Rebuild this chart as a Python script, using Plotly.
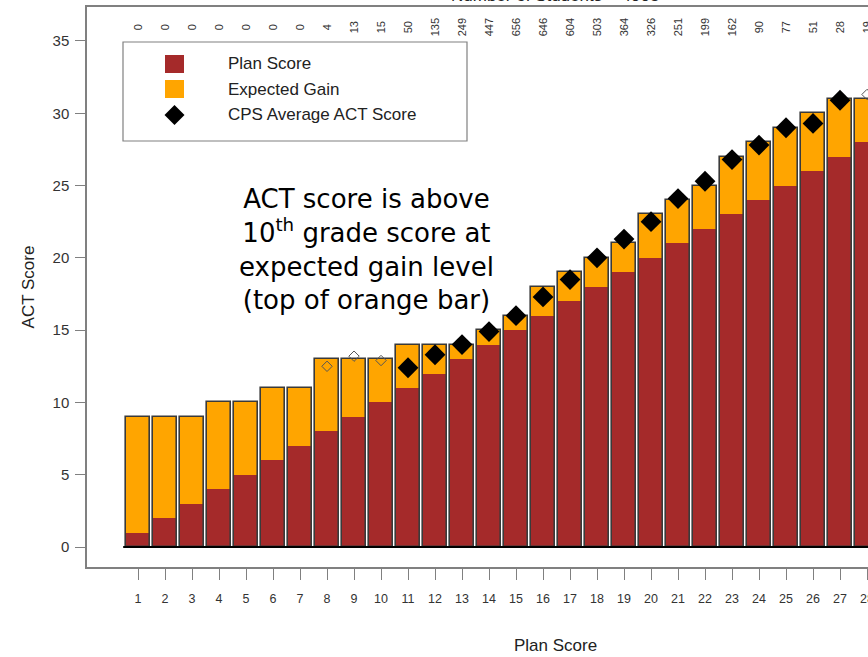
import plotly.graph_objects as go

# ---------------- data ----------------
plan_scores = list(range(1, 29))
plan_value = [1, 2, 3, 4, 5, 6, 7, 8, 9, 10, 11, 12, 13, 14, 15, 16, 17, 18, 19, 20,
              21, 22, 23, 24, 25, 26, 27, 28]
expected_level = [9, 9, 9, 10, 10, 11, 11, 13, 13, 13, 14, 14, 14, 15, 16, 18, 19, 20,
                  21, 23, 24, 25, 27, 28, 29, 30, 31, 31]
n_students = [0, 0, 0, 0, 0, 0, 0, 4, 13, 15, 50, 135, 249, 447, 656, 646, 604, 503,
              364, 326, 251, 199, 162, 90, 77, 51, 28, 19]
cps_avg_act = [None, None, None, None, None, None, None, 12.5, 13.2, 12.9, 12.4, 13.3,
               14.0, 14.9, 16.0, 17.3, 18.5, 20.0, 21.3, 22.5, 24.1, 25.3, 26.8, 27.8,
               29.0, 29.3, 30.9, 31.3]
y_ticks = [0, 5, 10, 15, 20, 25, 30, 35]
MIN_N = 20

RED = "#A52A2A"
ORANGE = "#FFA500"
GRAY = "#808080"

# the chart is wider than the 868px window; its right part is cut off like the reference
W, H = 920, 657
L, R, T, B = 87, 0, 7, 90
PW, PH = W - L - R, H - T - B
X0 = -0.89
X1 = X0 + PW / 27.0


def px(x):
    return (x - L) / PW


def py(y):
    return (H - B - y) / PH


gain = [e - p for e, p in zip(expected_level, plan_value)]

fig = go.Figure()
fig.add_trace(go.Bar(x=plan_scores, y=plan_value, base=0, width=0.88, name="Plan Score",
                     marker=dict(color=RED, line=dict(width=0)), showlegend=False))
fig.add_trace(go.Bar(x=plan_scores, y=gain, base=plan_value, width=0.88, name="Expected Gain",
                     marker=dict(color=ORANGE, line=dict(width=0)), showlegend=False))
fig.add_trace(go.Bar(x=plan_scores, y=expected_level, base=0, width=0.88, hoverinfo="skip",
                     marker=dict(color="rgba(0,0,0,0)", line=dict(color="#3a3a3a", width=1.6)),
                     showlegend=False))

filled_x = [s for s, a, n in zip(plan_scores, cps_avg_act, n_students) if a is not None and n >= MIN_N]
filled_y = [a for s, a, n in zip(plan_scores, cps_avg_act, n_students) if a is not None and n >= MIN_N]
open_x = [s for s, a, n in zip(plan_scores, cps_avg_act, n_students) if a is not None and n < MIN_N]
open_y = [a for s, a, n in zip(plan_scores, cps_avg_act, n_students) if a is not None and n < MIN_N]

fig.add_trace(go.Scatter(x=filled_x, y=filled_y, mode="markers", name="CPS Average ACT Score",
                         marker=dict(symbol="diamond", size=16, color="black",
                                     line=dict(width=0)), showlegend=False))
fig.add_trace(go.Scatter(x=open_x, y=open_y, mode="markers", showlegend=False,
                         marker=dict(symbol="diamond-open", size=8, color="#555555",
                                     line=dict(width=1))))

shapes = []
# baseline at zero
shapes.append(dict(type="line", xref="x", yref="y", x0=0.45, x1=X1, y0=0, y1=0,
                   line=dict(color="black", width=2)))
# legend box
shapes.append(dict(type="rect", xref="paper", yref="paper", x0=px(123), x1=px(467),
                   y0=py(141), y1=py(42), line=dict(color=GRAY, width=1.2),
                   fillcolor="white", layer="above"))
shapes.append(dict(type="rect", xref="paper", yref="paper", x0=px(165), x1=px(184),
                   y0=py(73), y1=py(55), line=dict(width=0), fillcolor=RED, layer="above"))
shapes.append(dict(type="rect", xref="paper", yref="paper", x0=px(165), x1=px(184),
                   y0=py(98), y1=py(80), line=dict(width=0), fillcolor=ORANGE, layer="above"))
cx, cy, r = 174.5, 115, 10
shapes.append(dict(type="path", xref="paper", yref="paper",
                   path=f"M {px(cx)} {py(cy - r)} L {px(cx + r)} {py(cy)} L {px(cx)} {py(cy + r)} L {px(cx - r)} {py(cy)} Z",
                   fillcolor="black", line=dict(width=0), layer="above"))

annotations = []
for label, yy in [("Plan Score", 64), ("Expected Gain", 89), ("CPS Average ACT Score", 115)]:
    annotations.append(dict(xref="paper", yref="paper", x=px(226), y=py(yy), text=label,
                            showarrow=False, xanchor="left", yanchor="middle",
                            font=dict(family="Liberation Sans, Arial", size=17, color="#222")))

for s, n in zip(plan_scores, n_students):
    annotations.append(dict(xref="x", yref="y", x=s, y=35.95, text=str(n), showarrow=False,
                            textangle=-90, xanchor="center", yanchor="middle",
                            font=dict(family="Liberation Sans, Arial", size=11, color="#333")))

annotations.append(dict(xref="paper", yref="paper", x=px(366.5), y=py(249),
                        text="ACT score is above<br>10<sup>th</sup> grade score at<br>expected gain level<br>(top of orange bar)",
                        showarrow=False, xanchor="center", yanchor="middle", align="center",
                        font=dict(family="DejaVu Sans, Verdana", size=26, color="black")))

annotations.append(dict(xref="paper", yref="paper", x=px(555), y=py(645), text="Plan Score",
                        showarrow=False, xanchor="center", yanchor="middle",
                        font=dict(family="Liberation Sans, Arial", size=17, color="#222")))

annotations.append(dict(xref="paper", yref="paper", x=px(555), y=py(-5),
                        text="Number of Students = 4903", showarrow=False,
                        xanchor="center", yanchor="middle",
                        font=dict(family="Liberation Sans, Arial", size=17, color="#222")))

fig.update_layout(
    width=W, height=H,
    margin=dict(l=L, r=R, t=T, b=B, pad=0),
    paper_bgcolor="white", plot_bgcolor="white",
    barmode="overlay", bargap=0,
    shapes=shapes, annotations=annotations,
    xaxis=dict(range=[X0, X1], tickmode="array", tickvals=plan_scores,
               ticktext=[str(s) for s in plan_scores], ticks="outside", ticklen=11,
               tickcolor=GRAY, tickwidth=1.2, showline=True, linecolor=GRAY, linewidth=1.5,
               mirror=True, showgrid=False, zeroline=False, ticklabelstandoff=8,
               tickfont=dict(family="Liberation Sans, Arial", size=12.5, color="#333")),
    yaxis=dict(range=[-1.38, 37.35], tickmode="array", tickvals=y_ticks, ticks="outside",
               ticklen=10, tickcolor=GRAY, tickwidth=1.2, showline=True, linecolor=GRAY,
               linewidth=1.5, showgrid=False, zeroline=False, ticklabelstandoff=3,
               tickfont=dict(family="Liberation Sans, Arial", size=15, color="#333"),
               title=dict(text="ACT Score", standoff=14,
                          font=dict(family="Liberation Sans, Arial", size=17, color="#222"))),
)

fig.write_html(
    "out.html",
    config={"displayModeBar": False},
    post_script="document.body.style.margin='0';document.body.style.overflow='hidden';"
                "document.documentElement.style.overflow='hidden';",
)
